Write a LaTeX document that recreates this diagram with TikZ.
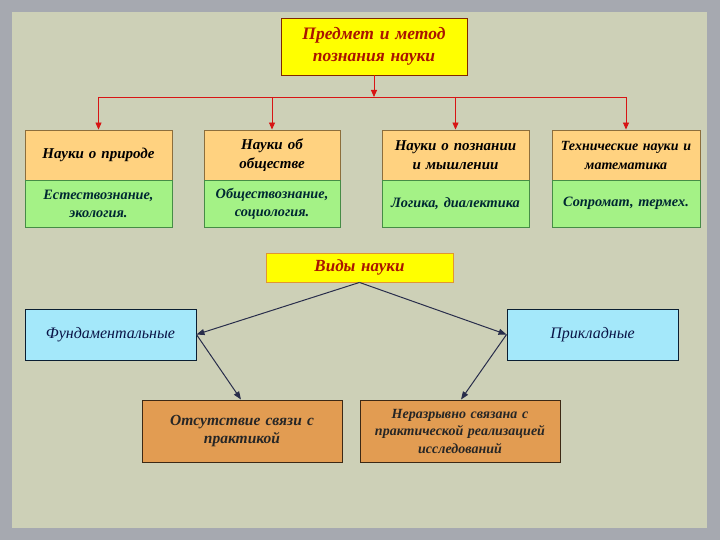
\documentclass[tikz,border=0pt]{standalone}
\usepackage{fontspec}
\setmainfont{Liberation Serif}
\usetikzlibrary{arrows.meta}
\definecolor{outergray}{RGB}{166,169,176}
\definecolor{panel}{RGB}{205,208,183}
\definecolor{topyellow}{RGB}{255,255,0}
\definecolor{topborder}{RGB}{128,40,0}
\definecolor{toptext}{RGB}{170,20,0}
\definecolor{hdrorange}{RGB}{255,210,128}
\definecolor{hdrborder}{RGB}{140,110,60}
\definecolor{greenbox}{RGB}{164,242,134}
\definecolor{greenborder}{RGB}{70,140,70}
\definecolor{greentext}{RGB}{0,40,50}
\definecolor{cyanbox}{RGB}{164,232,250}
\definecolor{cyanborder}{RGB}{10,30,50}
\definecolor{navytext}{RGB}{10,20,70}
\definecolor{orangebox}{RGB}{226,156,82}
\definecolor{orangeborder}{RGB}{60,40,20}
\definecolor{vidyborder}{RGB}{225,150,50}
\definecolor{redline}{RGB}{215,20,20}
\definecolor{bluearrow}{RGB}{40,45,75}
\tikzset{
  boxbase/.style={draw, line width=0.9pt, inner xsep=0pt, inner ysep=2pt, align=center, text width=#1, minimum width=#1},
  topbox/.style={boxbase=186pt, fill=topyellow, draw=topborder, minimum height=57pt, text=toptext, font=\fontsize{17.5}{22}\selectfont\bfseries\itshape},
  hdrbox/.style={boxbase=#1, fill=hdrorange, draw=hdrborder, minimum height=50pt, font=\fontsize{15}{19}\selectfont\bfseries\itshape},
  grnbox/.style={boxbase=#1, fill=greenbox, draw=greenborder, minimum height=47pt, text=greentext, font=\fontsize{14.3}{18}\selectfont\bfseries\itshape},
  vidybox/.style={boxbase=187pt, fill=topyellow, draw=vidyborder, minimum height=29pt, text=toptext, font=\fontsize{17}{20}\selectfont\bfseries\itshape},
  cyanbx/.style={boxbase=171pt, fill=cyanbox, draw=cyanborder, minimum height=51pt, text=navytext, font=\fontsize{16}{20}\selectfont\itshape},
  orgbox/.style={boxbase=200pt, fill=orangebox, draw=orangeborder, minimum height=62pt, text=black!85, font=\fontsize{#1}{17.5}\selectfont\bfseries\itshape},
  redarrow/.style={draw=redline, line width=0.9pt, -{Triangle[length=7pt,width=6pt]}},
  bluearr/.style={draw=bluearrow, line width=1pt, -{Triangle[length=8pt,width=6pt]}}
}
\begin{document}
\begin{tikzpicture}[x=1pt,y=-1pt]
\fill[outergray] (0,0) rectangle (720,540);
\fill[panel] (12,12) rectangle (707,528);
\useasboundingbox (0,0) rectangle (720,540);

\node[topbox] (top) at (374,46.5) {Предмет и метод\\познания науки};

\node[hdrbox=147pt] (h1) at (98.5,155) {Науки о природе};
\node[grnbox=147pt] (g1) at (98.5,203.5) {Естествознание,\\экология.};
\node[hdrbox=136pt] (h2) at (272,155) {Науки об\\обществе};
\node[grnbox=136pt] (g2) at (272,203.5) {Обществознание,\\социология.};
\node[hdrbox=147pt] (h3) at (455.5,155) {Науки о познании\\и мышлении};
\node[grnbox=147pt] (g3) at (455.5,203.5) {Логика, диалектика};
\node[hdrbox=148pt, font=\fontsize{14}{19}\selectfont\bfseries\itshape] (h4) at (626,155) {Технические науки и\\математика};
\node[grnbox=148pt] (g4) at (626,203.5) {Сопромат, термех.};

\coordinate (bus) at (374,97);
\coordinate (busL) at (98.5,97);
\coordinate (busR) at (626,97);
\draw[redarrow] (top.south) -- (bus);
\draw[draw=redline, line width=0.9pt] (busL) -- (busR);
\draw[redarrow] (busL) -- (h1.north);
\draw[redarrow] (h2.north |- bus) -- (h2.north);
\draw[redarrow] (h3.north |- bus) -- (h3.north);
\draw[redarrow] (busR) -- (h4.north);

\node[vidybox] (vidy) at (359.5,267.5) {Виды науки};
\node[cyanbx] (fund) at (110.5,334.5) {Фундаментальные};
\node[cyanbx] (appl) at (592.5,334.5) {Прикладные};
\node[orgbox=15.5] (lb) at (242,431) {Отсутствие связи с\\практикой};
\node[orgbox=14] (rb) at (460,431) {Неразрывно связана с\\практической реализацией\\исследований};

\draw[bluearr] (vidy.south) -- (fund.east);
\draw[bluearr] (vidy.south) -- (appl.west);
\draw[bluearr] (fund.east) -- ([xshift=-1pt]lb.north);
\draw[bluearr] (appl.west) -- ([xshift=1pt]rb.north);
\end{tikzpicture}
\end{document}
